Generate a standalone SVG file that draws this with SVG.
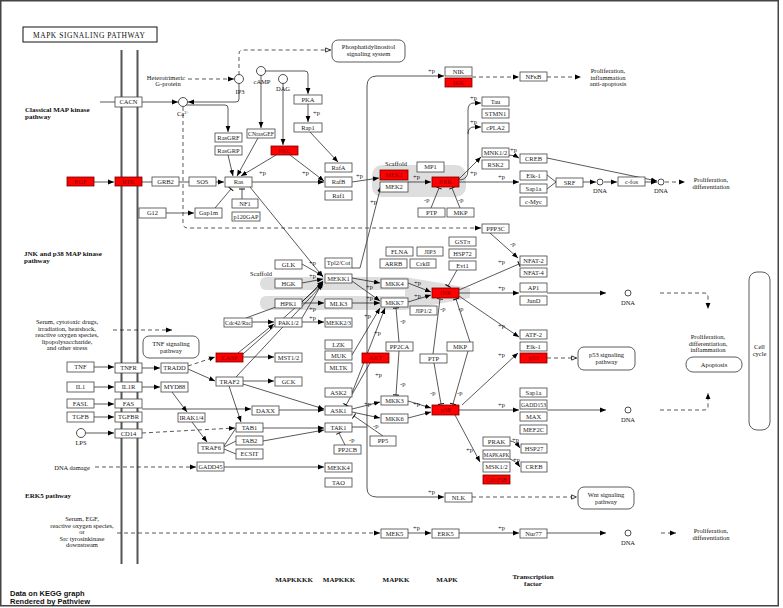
<svg xmlns="http://www.w3.org/2000/svg" width="783" height="608" viewBox="0 0 783 608">
<style>
.n rect{fill:#fff;stroke:#444;stroke-width:.8}
.n.r rect{fill:#f00;stroke:#700}
.n text{font-family:"Liberation Serif",serif;font-size:6.5px;text-anchor:middle;fill:#222}
.n.r text{fill:#800}
.pw rect{fill:#fff;stroke:#333;stroke-width:.8}
.pw text,.lb{font-family:"Liberation Serif",serif;font-size:6.5px;fill:#111}
.pw text,.m{text-anchor:middle}
.bd{font-weight:bold;font-size:7px}
.c path{fill:none;stroke:#111;stroke-width:.7}
.c .d{stroke-dasharray:4 3}
.c .g{stroke:#555;stroke-width:1}
.cir{fill:#fff;stroke:#222;stroke-width:.8}
.sc{fill:#dedede}
.mem{stroke:#555;stroke-width:2}
</style>
<defs>
<marker id="a" viewBox="0 0 10 10" refX="10" refY="5" markerWidth="6" markerHeight="6" orient="auto" markerUnits="userSpaceOnUse"><path d="M0,1 L10,5 L0,9z" fill="#000"/></marker>
<marker id="o" viewBox="0 0 10 10" refX="10" refY="5" markerWidth="6" markerHeight="6" orient="auto" markerUnits="userSpaceOnUse"><path d="M1,1.5 L9,5 L1,8.5z" fill="#fff" stroke="#000" stroke-width="1.3"/></marker>
<marker id="b" viewBox="0 0 4 10" refX="2" refY="5" markerWidth="2.4" markerHeight="6" orient="auto" markerUnits="userSpaceOnUse"><path d="M2,0 V10" stroke="#000" stroke-width="1.6"/></marker>
</defs>
<rect width="783" height="608" fill="#fff"/>
<rect x="0.75" y="0.75" width="777.5" height="605" fill="none" stroke="#444" stroke-width="1.5"/>

<g id="scaffolds">
<rect class="sc" x="372" y="165" width="94" height="32" rx="10"/>
<rect class="sc" x="260" y="277" width="150" height="13" rx="6"/>
<rect class="sc" x="260" y="296" width="150" height="14" rx="6"/>
<polygon class="sc" points="405,277 470,288 470,298 405,310"/>
</g>

<g id="membrane">
<line class="mem" x1="121.5" y1="50" x2="121.5" y2="564"/>
<line class="mem" x1="137.5" y1="50" x2="137.5" y2="564"/>
</g>

<g id="title"><rect x="23" y="27" width="134" height="15" fill="#fff" stroke="#111" stroke-width="1"/><text class="lb m" x="89" y="37.8" style="font-size:7.5px" textLength="112" lengthAdjust="spacing">MAPK SIGNALING PATHWAY</text></g>

<g id="connectors" class="c">
<path d="M100,102 H115"/>
<path d="M142,102 H178" marker-end="url(#a)"/>
<path class="d" d="M188,79 H234" marker-end="url(#a)"/>
<path class="d" d="M239,75 V54 Q239,50 243,50 H331" marker-end="url(#o)"/>
<path d="M239,83 V99 Q239,102 236,102 H188" marker-end="url(#a)"/>
<path d="M186,105 H225 Q228,105 228,108 V132" marker-end="url(#a)"/>
<path class="d" d="M183,107 V223 Q183,228 188,228 H481" marker-end="url(#a)"/>
<path d="M265,71 H305 Q308,71 308,74 V94" marker-end="url(#a)"/>
<path d="M261,75 V128" marker-end="url(#a)"/>
<path d="M283,83 V145" marker-end="url(#a)"/>
<path d="M308,104 V122" marker-end="url(#a)"/>
<path d="M310,132 L338,162" marker-end="url(#a)"/>
<path d="M276,155 L241,176" marker-end="url(#a)"/>
<path d="M290,155 L324,181" marker-end="url(#a)"/>
<path d="M228,155 L233,176" marker-end="url(#a)"/>
<path d="M258,138 L237,176" marker-end="url(#a)"/>
<path d="M252,182 H324" marker-end="url(#a)"/>
<path d="M216,182 H224" marker-end="url(#a)"/>
<path d="M179,182 H189"/>
<path d="M142,182 H152"/>
<path d="M94,182 H114" marker-end="url(#a)"/>
<path d="M166,213 H194" marker-end="url(#a)"/>
<path d="M215,208 L231,189" marker-end="url(#b)"/>
<path d="M242,199 L242,189" marker-end="url(#b)"/>
<path d="M250,187 L323,277" marker-end="url(#a)"/>
<path d="M352,182 L379,178" marker-end="url(#a)"/>
<path d="M352,268 H360 L381,186" marker-end="url(#a)"/>
<path d="M408,182 H431" marker-end="url(#a)"/>
<path d="M431,208 L439,188" marker-end="url(#b)"/>
<path d="M460,208 L452,188" marker-end="url(#b)"/>
<path d="M459,180 Q468,180 468,170 V110 Q468,103 474,103 H481" marker-end="url(#a)"/>
<path d="M468,134 Q468,127 474,127 H481" marker-end="url(#a)"/>
<path d="M459,179 L481,157" marker-end="url(#a)"/>
<path d="M459,182 H519" marker-end="url(#a)"/>
<path d="M509,155 Q514,155 519,158" marker-end="url(#a)"/>
<path d="M547,158 L657,181" marker-end="url(#a)"/>
<path d="M547,175 L556,182 L547,189"/>
<path d="M583,182 H596" marker-end="url(#a)"/>
<path d="M604,182 H617" marker-end="url(#a)"/>
<path d="M644,182 H657" marker-end="url(#a)"/>
<path class="d" d="M665,182 H685" marker-end="url(#a)"/>
<path class="g" d="M352,427 H367"/>
<path class="g" d="M367,427 V86 Q367,76 377,76 H444" marker-end="url(#a)"/>
<path class="g" d="M367,427 V488 Q367,497 377,497 H444" marker-end="url(#a)"/>
<path class="d" d="M472,77 H519" marker-end="url(#a)"/>
<path class="d" d="M547,77 H581" marker-end="url(#a)"/>
<path d="M302,264 L323,276" marker-end="url(#a)"/>
<path d="M302,283 L323,279" marker-end="url(#a)"/>
<path d="M302,302 L323,281" marker-end="url(#a)"/>
<path d="M302,303 H324" marker-end="url(#a)"/>
<path d="M246,318 L276,307"/>
<path d="M252,322 H274" marker-end="url(#a)"/>
<path d="M302,322 H324" marker-end="url(#a)"/>
<path d="M302,318 L323,282" marker-end="url(#a)"/>
<path d="M238,353 L274,324" marker-end="url(#a)"/>
<path d="M243,354 L323,283" marker-end="url(#a)"/>
<path d="M243,357 H274" marker-end="url(#a)"/>
<path d="M243,381 H274" marker-end="url(#a)"/>
<path d="M236,377 L323,284" marker-end="url(#a)"/>
<path d="M243,384 L324,409" marker-end="url(#a)"/>
<path d="M229,386 L241,422" marker-end="url(#a)"/>
<path class="d" d="M188,366 L215,357" marker-end="url(#a)"/>
<path d="M188,369 L215,381" marker-end="url(#a)"/>
<path d="M94,367 H114" marker-end="url(#a)"/>
<path d="M142,368 H160" marker-end="url(#a)"/>
<path d="M94,387 H114" marker-end="url(#a)"/>
<path d="M142,387 H160" marker-end="url(#a)"/>
<path d="M94,404 H114" marker-end="url(#a)"/>
<path d="M142,409 H251" marker-end="url(#a)"/>
<path d="M94,417 H114" marker-end="url(#a)"/>
<path d="M86,433 H114" marker-end="url(#a)"/>
<path class="d" d="M142,433 L235,428" marker-end="url(#a)"/>
<path d="M172,392 L187,412" marker-end="url(#a)"/>
<path d="M192,422 L207,442" marker-end="url(#a)"/>
<path d="M224,446 L236,428 M224,447 L236,441 M224,449 L236,454"/>
<path d="M263,428 H324" marker-end="url(#a)"/>
<path d="M263,441 L324,430" marker-end="url(#a)"/>
<path d="M279,410 H324" marker-end="url(#a)"/>
<path d="M224,467 H324" marker-end="url(#a)"/>
<path class="d" d="M95,467 H196" marker-end="url(#a)"/>
<path d="M345,445 L339,433" marker-end="url(#b)"/>
<path d="M383,436 L354,416" marker-end="url(#b)"/>
<path d="M352,409 L380,402" marker-end="url(#a)"/>
<path d="M352,412 L380,418" marker-end="url(#a)"/>
<path d="M370,363 L346,405" marker-end="url(#b)"/>
<path d="M352,393 L385,308" marker-end="url(#a)"/>
<path d="M352,355 L380,308" marker-end="url(#a)"/>
<path d="M352,278 L380,283" marker-end="url(#a)"/>
<path d="M352,281 L380,301" marker-end="url(#a)"/>
<path d="M352,303 H380" marker-end="url(#a)"/>
<path d="M408,283 L431,292" marker-end="url(#a)"/>
<path d="M408,302 L431,295" marker-end="url(#a)"/>
<path d="M457,270 L448,286" marker-end="url(#b)"/>
<path d="M459,290 L519,264" marker-end="url(#b)"/>
<path d="M490,233 L518,258" marker-end="url(#a)"/>
<path d="M459,293 H519" marker-end="url(#a)"/>
<path d="M459,296 L519,337" marker-end="url(#a)"/>
<path d="M547,293 H606" marker-end="url(#a)"/>
<path class="d" d="M660,293 H704 Q708,293 708,297 V309" marker-end="url(#a)"/>
<path class="d" d="M547,358 H577" marker-end="url(#o)"/>
<path d="M399,342 L396,308" marker-end="url(#b)"/>
<path d="M399,351 L396,395" marker-end="url(#b)"/>
<path d="M433,354 L440,299" marker-end="url(#b)"/>
<path d="M470,342 L456,299" marker-end="url(#b)"/>
<path d="M434,363 L441,404" marker-end="url(#b)"/>
<path d="M468,351 L453,404" marker-end="url(#b)"/>
<path d="M408,401 L431,408" marker-end="url(#a)"/>
<path d="M408,418 L431,412" marker-end="url(#a)"/>
<path d="M459,410 H519" marker-end="url(#a)"/>
<path d="M462,405 L518,353" marker-end="url(#a)"/>
<path d="M455,415 L480,462" marker-end="url(#a)"/>
<path d="M510,441 Q515,441 520,448" marker-end="url(#a)"/>
<path d="M510,459 Q515,460 520,467" marker-end="url(#a)"/>
<path d="M547,410 H606" marker-end="url(#a)"/>
<path class="d" d="M660,410 H704 Q708,410 708,406 V393" marker-end="url(#a)"/>
<path class="d" d="M472,497 H577" marker-end="url(#o)"/>
<path class="d" d="M117,533 H380" marker-end="url(#a)"/>
<path d="M408,533 H431" marker-end="url(#a)"/>
<path d="M459,533 H519" marker-end="url(#a)"/>
<path d="M547,533 H606" marker-end="url(#a)"/>
<path class="d" d="M661,533 H676" marker-end="url(#a)"/>
<path class="d" d="M113,330 H172" marker-end="url(#a)"/>
</g>

<g id="compounds">
<circle class="cir" cx="183" cy="102" r="4.5"/>
<circle class="cir" cx="239" cy="79" r="4.5"/>
<circle class="cir" cx="261" cy="71" r="4.5"/>
<circle class="cir" cx="283" cy="79" r="4.5"/>
<circle class="cir" cx="81" cy="433" r="4.5"/>
<circle class="cir" cx="600" cy="182" r="3"/>
<circle class="cir" cx="661" cy="182" r="3"/>
<circle class="cir" cx="628" cy="293" r="3"/>
<circle class="cir" cx="628" cy="410" r="3"/>
<circle class="cir" cx="628" cy="533" r="3"/>
</g>

<g id="pathways" class="pw">
<g id="pw-pi"><rect x="332" y="40" width="73" height="22" rx="6"/><text x="368.5" y="49">Phosphatidylinositol</text><text x="368.5" y="56">signaling system</text></g>
<g id="pw-tnf"><rect x="143" y="336" width="56" height="22" rx="6"/><text x="171" y="345.5">TNF signaling</text><text x="171" y="352.5">pathway</text></g>
<g id="pw-p53"><rect x="578" y="347" width="57" height="23" rx="6"/><text x="606.5" y="357">p53 signaling</text><text x="606.5" y="364">pathway</text></g>
<g id="pw-wnt"><rect x="578" y="487" width="56" height="22" rx="6"/><text x="606" y="496.5">Wnt signaling</text><text x="606" y="503.5">pathway</text></g>
<g id="pw-apop"><rect x="686" y="357" width="56" height="15" rx="7"/><text x="714" y="367">Apoptosis</text></g>
<g id="pw-cc"><rect x="749" y="272" width="21" height="158" rx="8"/><text x="759.5" y="349">Cell</text><text x="759.5" y="356">cycle</text></g>
</g>

<g id="nodes">
<g id="n-CACN" class="n"><rect x="115" y="97" width="27" height="10"/><text x="128.5" y="104.3">CACN</text></g>
<g id="n-EGF" class="n r"><rect x="67" y="177" width="27" height="9"/><text x="80.5" y="183.8">EGF</text></g>
<g id="n-RTK" class="n r"><rect x="115" y="177" width="27" height="9"/><text x="128.5" y="183.8">RTK</text></g>
<g id="n-GRB2" class="n"><rect x="152" y="177" width="27" height="9"/><text x="165.5" y="183.8">GRB2</text></g>
<g id="n-SOS" class="n"><rect x="189" y="177" width="27" height="9"/><text x="202.5" y="183.8">SOS</text></g>
<g id="n-Ras" class="n"><rect x="225" y="177" width="27" height="10"/><text x="238.5" y="184.3">Ras</text></g>
<g id="n-RasGRF" class="n"><rect x="215" y="133" width="27" height="9"/><text x="228.5" y="139.8">RasGRF</text></g>
<g id="n-RasGRP" class="n"><rect x="215" y="146" width="27" height="9"/><text x="228.5" y="152.8">RasGRP</text></g>
<g id="n-CNrasGEF" class="n"><rect x="247" y="129" width="28" height="9"/><text x="261" y="135.8" textLength="26" lengthAdjust="spacingAndGlyphs">CNrasGEF</text></g>
<g id="n-PKC" class="n r"><rect x="271" y="146" width="27" height="9"/><text x="284.5" y="152.8">PKC</text></g>
<g id="n-PKA" class="n"><rect x="294" y="95" width="28" height="9"/><text x="308" y="101.8">PKA</text></g>
<g id="n-Rap1" class="n"><rect x="294" y="123" width="28" height="9"/><text x="308" y="129.8">Rap1</text></g>
<g id="n-RafA" class="n"><rect x="325" y="163" width="27" height="9"/><text x="338.5" y="169.8">RafA</text></g>
<g id="n-RafB" class="n"><rect x="325" y="177" width="27" height="10"/><text x="338.5" y="184.3">RafB</text></g>
<g id="n-Raf1" class="n"><rect x="325" y="191" width="27" height="9"/><text x="338.5" y="197.8">Raf1</text></g>
<g id="n-NF1" class="n"><rect x="232" y="199" width="26" height="9"/><text x="245" y="205.8">NF1</text></g>
<g id="n-p120GAP" class="n"><rect x="232" y="212" width="28" height="9"/><text x="246" y="218.8" textLength="25" lengthAdjust="spacingAndGlyphs">p120GAP</text></g>
<g id="n-G12" class="n"><rect x="139" y="208" width="27" height="10"/><text x="152.5" y="215.3">G12</text></g>
<g id="n-Gap1m" class="n"><rect x="195" y="208" width="27" height="10"/><text x="208.5" y="215.3">Gap1m</text></g>
<g id="n-MEK1" class="n r"><rect x="380" y="170" width="28" height="10"/><text x="394" y="177.3">MEK1</text></g>
<g id="n-MEK2" class="n"><rect x="380" y="182" width="28" height="10"/><text x="394" y="189.3">MEK2</text></g>
<g id="n-MP1" class="n"><rect x="417" y="162" width="27" height="10"/><text x="430.5" y="169.3">MP1</text></g>
<g id="n-ERK" class="n r"><rect x="432" y="177" width="27" height="10"/><text x="445.5" y="184.3">ERK</text></g>
<g id="n-PTP-erk" class="n"><rect x="418" y="208" width="27" height="9"/><text x="431.5" y="214.8">PTP</text></g>
<g id="n-MKP-erk" class="n"><rect x="447" y="208" width="27" height="9"/><text x="460.5" y="214.8">MKP</text></g>
<g id="n-Tau" class="n"><rect x="482" y="97" width="27" height="9"/><text x="495.5" y="103.8">Tau</text></g>
<g id="n-STMN1" class="n"><rect x="482" y="109" width="27" height="9"/><text x="495.5" y="115.8">STMN1</text></g>
<g id="n-cPLA2" class="n"><rect x="482" y="123" width="27" height="9"/><text x="495.5" y="129.8">cPLA2</text></g>
<g id="n-MNK12" class="n"><rect x="482" y="148" width="27" height="9"/><text x="495.5" y="154.8">MNK1/2</text></g>
<g id="n-RSK2" class="n"><rect x="482" y="160" width="27" height="9"/><text x="495.5" y="166.8">RSK2</text></g>
<g id="n-CREB-erk" class="n"><rect x="520" y="154" width="27" height="9"/><text x="533.5" y="160.8">CREB</text></g>
<g id="n-Elk1-erk" class="n"><rect x="520" y="171" width="27" height="9"/><text x="533.5" y="177.8">Elk-1</text></g>
<g id="n-Sap1a-erk" class="n"><rect x="520" y="184" width="27" height="9"/><text x="533.5" y="190.8">Sap1a</text></g>
<g id="n-cMyc" class="n"><rect x="520" y="197" width="27" height="9"/><text x="533.5" y="203.8">c-Myc</text></g>
<g id="n-SRF" class="n"><rect x="556" y="178" width="27" height="9"/><text x="569.5" y="184.8">SRF</text></g>
<g id="n-cfos" class="n"><rect x="618" y="177" width="27" height="9"/><text x="631.5" y="183.8">c-fos</text></g>
<g id="n-NIK" class="n"><rect x="445" y="67" width="27" height="9"/><text x="458.5" y="73.8">NIK</text></g>
<g id="n-IKK" class="n r"><rect x="445" y="78" width="27" height="9"/><text x="458.5" y="84.8">IKK</text></g>
<g id="n-NFkB" class="n"><rect x="520" y="72" width="27" height="9"/><text x="533.5" y="78.8">NFκB</text></g>
<g id="n-PPP3C" class="n"><rect x="482" y="224" width="27" height="9"/><text x="495.5" y="230.8">PPP3C</text></g>
<g id="n-GLK" class="n"><rect x="275" y="260" width="27" height="9"/><text x="288.5" y="266.8">GLK</text></g>
<g id="n-HGK" class="n"><rect x="275" y="279" width="27" height="9"/><text x="288.5" y="285.8">HGK</text></g>
<g id="n-HPK1" class="n"><rect x="275" y="299" width="27" height="9"/><text x="288.5" y="305.8">HPK1</text></g>
<g id="n-Cdc42Rac" class="n"><rect x="224" y="318" width="28" height="9"/><text x="238" y="324.8" textLength="26" lengthAdjust="spacingAndGlyphs">Cdc42/Rac</text></g>
<g id="n-PAK12" class="n"><rect x="275" y="318" width="27" height="9"/><text x="288.5" y="324.8">PAK1/2</text></g>
<g id="n-Tpl2Cot" class="n"><rect x="325" y="258" width="27" height="10"/><text x="338.5" y="265.3">Tpl2/Cot</text></g>
<g id="n-MEKK1" class="n"><rect x="325" y="274" width="27" height="9"/><text x="338.5" y="280.8">MEKK1</text></g>
<g id="n-MLK3" class="n"><rect x="325" y="299" width="27" height="9"/><text x="338.5" y="305.8">MLK3</text></g>
<g id="n-MEKK23" class="n"><rect x="325" y="318" width="27" height="9"/><text x="338.5" y="324.8" textLength="25" lengthAdjust="spacingAndGlyphs">MEKK2/3</text></g>
<g id="n-LZK" class="n"><rect x="325" y="340" width="27" height="9"/><text x="338.5" y="346.8">LZK</text></g>
<g id="n-MUK" class="n"><rect x="325" y="351" width="27" height="9"/><text x="338.5" y="357.8">MUK</text></g>
<g id="n-MLTK" class="n"><rect x="325" y="363" width="27" height="9"/><text x="338.5" y="369.8">MLTK</text></g>
<g id="n-ASK2" class="n"><rect x="325" y="388" width="27" height="9"/><text x="338.5" y="394.8">ASK2</text></g>
<g id="n-CASP" class="n r"><rect x="216" y="353" width="27" height="9"/><text x="229.5" y="359.8">CASP</text></g>
<g id="n-MST12" class="n"><rect x="275" y="353" width="27" height="9"/><text x="288.5" y="359.8">MST1/2</text></g>
<g id="n-TRAF2" class="n"><rect x="216" y="377" width="27" height="9"/><text x="229.5" y="383.8">TRAF2</text></g>
<g id="n-GCK" class="n"><rect x="275" y="377" width="27" height="9"/><text x="288.5" y="383.8">GCK</text></g>
<g id="n-AKT" class="n r"><rect x="362" y="353" width="27" height="10"/><text x="375.5" y="360.3">AKT</text></g>
<g id="n-MKK4" class="n"><rect x="381" y="279" width="27" height="9"/><text x="394.5" y="285.8">MKK4</text></g>
<g id="n-MKK7" class="n"><rect x="381" y="298" width="27" height="9"/><text x="394.5" y="304.8">MKK7</text></g>
<g id="n-FLNA" class="n"><rect x="386" y="247" width="27" height="9"/><text x="399.5" y="253.8">FLNA</text></g>
<g id="n-JIP3" class="n"><rect x="417" y="247" width="26" height="9"/><text x="430" y="253.8">JIP3</text></g>
<g id="n-ARRB" class="n"><rect x="380" y="259" width="27" height="9"/><text x="393.5" y="265.8">ARRB</text></g>
<g id="n-CrkII" class="n"><rect x="410" y="259" width="26" height="9"/><text x="423" y="265.8">CrkII</text></g>
<g id="n-GSTpi" class="n"><rect x="449" y="237" width="27" height="9"/><text x="462.5" y="243.8">GSTπ</text></g>
<g id="n-HSP72" class="n"><rect x="449" y="249" width="27" height="9"/><text x="462.5" y="255.8">HSP72</text></g>
<g id="n-Evi1" class="n"><rect x="449" y="261" width="27" height="9"/><text x="462.5" y="267.8">Evi1</text></g>
<g id="n-JNK" class="n r"><rect x="432" y="288" width="27" height="10"/><text x="445.5" y="295.3">JNK</text></g>
<g id="n-JIP12" class="n"><rect x="410" y="306" width="27" height="9"/><text x="423.5" y="312.8">JIP1/2</text></g>
<g id="n-PP2CA" class="n"><rect x="386" y="342" width="27" height="9"/><text x="399.5" y="348.8">PP2CA</text></g>
<g id="n-MKP-jnk" class="n"><rect x="447" y="342" width="26" height="9"/><text x="460" y="348.8">MKP</text></g>
<g id="n-PTP-jnk" class="n"><rect x="420" y="354" width="27" height="9"/><text x="433.5" y="360.8">PTP</text></g>
<g id="n-NFAT2" class="n"><rect x="520" y="256" width="27" height="9"/><text x="533.5" y="262.8">NFAT-2</text></g>
<g id="n-NFAT4" class="n"><rect x="520" y="268" width="27" height="9"/><text x="533.5" y="274.8">NFAT-4</text></g>
<g id="n-AP1" class="n"><rect x="520" y="283" width="27" height="9"/><text x="533.5" y="289.8">AP1</text></g>
<g id="n-JunD" class="n"><rect x="520" y="296" width="27" height="9"/><text x="533.5" y="302.8">JunD</text></g>
<g id="n-ATF2" class="n"><rect x="520" y="330" width="27" height="9"/><text x="533.5" y="336.8">ATF-2</text></g>
<g id="n-Elk1-jnk" class="n"><rect x="520" y="342" width="27" height="9"/><text x="533.5" y="348.8">Elk-1</text></g>
<g id="n-p53" class="n r"><rect x="520" y="353" width="27" height="10"/><text x="533.5" y="360.3">p53</text></g>
<g id="n-MKK3" class="n"><rect x="381" y="396" width="27" height="9"/><text x="394.5" y="402.8">MKK3</text></g>
<g id="n-MKK6" class="n"><rect x="381" y="414" width="27" height="9"/><text x="394.5" y="420.8">MKK6</text></g>
<g id="n-p38" class="n r"><rect x="432" y="405" width="27" height="10"/><text x="445.5" y="412.3">p38</text></g>
<g id="n-PP5" class="n"><rect x="370" y="436" width="26" height="10"/><text x="383" y="443.3">PP5</text></g>
<g id="n-Sap1a-p38" class="n"><rect x="520" y="388" width="27" height="9"/><text x="533.5" y="394.8">Sap1a</text></g>
<g id="n-GADD153" class="n"><rect x="520" y="400" width="27" height="9"/><text x="533.5" y="406.8" textLength="25" lengthAdjust="spacingAndGlyphs">GADD153</text></g>
<g id="n-MAX" class="n"><rect x="520" y="412" width="27" height="9"/><text x="533.5" y="418.8">MAX</text></g>
<g id="n-MEF2C" class="n"><rect x="520" y="425" width="27" height="9"/><text x="533.5" y="431.8">MEF2C</text></g>
<g id="n-PRAK" class="n"><rect x="483" y="437" width="27" height="9"/><text x="496.5" y="443.8">PRAK</text></g>
<g id="n-MAPKAPK" class="n"><rect x="483" y="450" width="27" height="9"/><text x="496.5" y="456.6" style="font-size:5.2px">MAPKAPK</text></g>
<g id="n-MSK12" class="n"><rect x="483" y="462" width="27" height="10"/><text x="496.5" y="469.3">MSK1/2</text></g>
<g id="n-Cdc25B" class="n r"><rect x="483" y="475" width="27" height="9"/><text x="496.5" y="481.8">Cdc25B</text></g>
<g id="n-HSP27" class="n"><rect x="521" y="444" width="26" height="9"/><text x="534" y="450.8">HSP27</text></g>
<g id="n-CREB-p38" class="n"><rect x="521" y="462" width="26" height="10"/><text x="534" y="469.3">CREB</text></g>
<g id="n-NLK" class="n"><rect x="445" y="493" width="27" height="9"/><text x="458.5" y="499.8">NLK</text></g>
<g id="n-MEK5" class="n"><rect x="381" y="529" width="27" height="9"/><text x="394.5" y="535.8">MEK5</text></g>
<g id="n-ERK5" class="n"><rect x="432" y="529" width="27" height="9"/><text x="445.5" y="535.8">ERK5</text></g>
<g id="n-Nur77" class="n"><rect x="520" y="529" width="27" height="9"/><text x="533.5" y="535.8">Nur77</text></g>
<g id="n-TNF" class="n"><rect x="67" y="362" width="27" height="10"/><text x="80.5" y="369.3">TNF</text></g>
<g id="n-TNFR" class="n"><rect x="115" y="363" width="27" height="10"/><text x="128.5" y="370.3">TNFR</text></g>
<g id="n-TRADD" class="n"><rect x="161" y="363" width="27" height="10"/><text x="174.5" y="370.3">TRADD</text></g>
<g id="n-IL1" class="n"><rect x="67" y="382" width="27" height="10"/><text x="80.5" y="389.3">IL1</text></g>
<g id="n-IL1R" class="n"><rect x="115" y="382" width="27" height="10"/><text x="128.5" y="389.3">IL1R</text></g>
<g id="n-MYD88" class="n"><rect x="161" y="382" width="27" height="10"/><text x="174.5" y="389.3">MYD88</text></g>
<g id="n-FASL" class="n"><rect x="67" y="399" width="27" height="9"/><text x="80.5" y="405.8">FASL</text></g>
<g id="n-FAS" class="n"><rect x="115" y="399" width="27" height="9"/><text x="128.5" y="405.8">FAS</text></g>
<g id="n-TGFB" class="n"><rect x="67" y="412" width="27" height="10"/><text x="80.5" y="419.3">TGFB</text></g>
<g id="n-TGFBR" class="n"><rect x="115" y="412" width="27" height="10"/><text x="128.5" y="419.3">TGFBR</text></g>
<g id="n-CD14" class="n"><rect x="115" y="429" width="27" height="9"/><text x="128.5" y="435.8">CD14</text></g>
<g id="n-IRAK14" class="n"><rect x="178" y="413" width="27" height="9"/><text x="191.5" y="419.8">IRAK1/4</text></g>
<g id="n-TRAF6" class="n"><rect x="198" y="443" width="26" height="10"/><text x="211" y="450.3">TRAF6</text></g>
<g id="n-TAB1" class="n"><rect x="236" y="423" width="27" height="9"/><text x="249.5" y="429.8">TAB1</text></g>
<g id="n-TAB2" class="n"><rect x="236" y="436" width="27" height="9"/><text x="249.5" y="442.8">TAB2</text></g>
<g id="n-ECSIT" class="n"><rect x="236" y="449" width="27" height="10"/><text x="249.5" y="456.3">ECSIT</text></g>
<g id="n-DAXX" class="n"><rect x="252" y="406" width="27" height="9"/><text x="265.5" y="412.8">DAXX</text></g>
<g id="n-ASK1" class="n"><rect x="325" y="406" width="27" height="9"/><text x="338.5" y="412.8">ASK1</text></g>
<g id="n-TAK1" class="n"><rect x="325" y="423" width="27" height="9"/><text x="338.5" y="429.8">TAK1</text></g>
<g id="n-PP2CB" class="n"><rect x="334" y="445" width="27" height="9"/><text x="347.5" y="451.8">PP2CB</text></g>
<g id="n-GADD45" class="n"><rect x="197" y="462" width="27" height="9"/><text x="210.5" y="468.8" textLength="24" lengthAdjust="spacingAndGlyphs">GADD45</text></g>
<g id="n-MEKK4" class="n"><rect x="325" y="463" width="27" height="9"/><text x="338.5" y="469.8">MEKK4</text></g>
<g id="n-TAO" class="n"><rect x="325" y="478" width="27" height="9"/><text x="338.5" y="484.8">TAO</text></g>
</g>

<g id="labels" class="lb">
<text class="m" x="166" y="79.5">Heterotrimeric</text>
<text class="m" x="168" y="86">G-protein</text>
<text class="m" x="240" y="94">IP3</text>
<text class="m" x="262" y="84">cAMP</text>
<text class="m" x="283" y="91">DAG</text>
<text class="m" x="183" y="116">Ca<tspan dy="-2.5" style="font-size:4.5px">2+</tspan></text>
<text class="m" x="81" y="445">LPS</text>
<text class="m" x="600" y="193">DNA</text>
<text class="m" x="661" y="193">DNA</text>
<text class="m" x="628" y="305">DNA</text>
<text class="m" x="628" y="422">DNA</text>
<text class="m" x="628" y="545">DNA</text>
<text class="m" x="608" y="73">Proliferation,</text>
<text class="m" x="608" y="79.5">inflammation</text>
<text class="m" x="608" y="86">anti-apoptosis</text>
<text class="m" x="711" y="182">Proliferation,</text>
<text class="m" x="711" y="188.5">differentiation</text>
<text class="m" x="708" y="339">Proliferation,</text>
<text class="m" x="708" y="345.5">differentiation,</text>
<text class="m" x="708" y="352">inflammation</text>
<text class="m" x="711" y="533">Proliferation,</text>
<text class="m" x="711" y="539.5">differentiation</text>
<text class="m" x="396" y="166">Scaffold</text>
<text class="m" x="261" y="276">Scaffold</text>
<text class="m" x="67" y="324">Serum, cytotoxic drugs,</text>
<text class="m" x="67" y="330.5">irradiation, heatshock,</text>
<text class="m" x="67" y="337">reactive oxygen species,</text>
<text class="m" x="67" y="343.5">lipopolysaccharide,</text>
<text class="m" x="67" y="350">and other stress</text>
<text class="m" x="72" y="470">DNA damage</text>
<text class="m" x="82" y="521">Serum, EGF,</text>
<text class="m" x="82" y="527.5">reactive oxygen species,</text>
<text class="m" x="82" y="534">or</text>
<text class="m" x="82" y="540.5">Src tyrosinkinase</text>
<text class="m" x="82" y="547">downstream</text>
<text class="bd" x="25" y="112">Classical MAP kinase</text>
<text class="bd" x="25" y="119">pathway</text>
<text class="bd" x="24" y="256">JNK and p38 MAP kinase</text>
<text class="bd" x="24" y="263">pathway</text>
<text class="bd" x="25" y="498">ERK5 pathway</text>
<text class="bd m" x="294" y="582">MAPKKKK</text>
<text class="bd m" x="339" y="582">MAPKKK</text>
<text class="bd m" x="396" y="582">MAPKK</text>
<text class="bd m" x="447" y="582">MAPK</text>
<text class="bd m" x="533" y="579">Transcription</text>
<text class="bd m" x="533" y="586">factor</text>
<text x="10" y="596" style="font-family:'Liberation Sans',Arial,sans-serif;font-weight:bold;font-size:7.5px">Data on KEGG graph</text>
<text x="10" y="604" style="font-family:'Liberation Sans',Arial,sans-serif;font-weight:bold;font-size:7.5px">Rendered by Pathview</text>
</g>

<g id="modlabels" class="lb">
<text x="313" y="115">+p</text>
<text x="259" y="175">+p</text>
<text x="302" y="175">+p</text>
<text x="356" y="178">+p</text>
<text x="370" y="204">+p</text>
<text x="413" y="179">+p</text>
<text x="424" y="202">-p</text>
<text x="458" y="202">-p</text>
<text x="470" y="100">+p</text>
<text x="470" y="124">+p</text>
<text x="470" y="175">+p</text>
<text x="498" y="179">+p</text>
<text x="510" y="152">+p</text>
<text x="428" y="73">+p</text>
<text x="428" y="494">+p</text>
<text x="309" y="265">+p</text>
<text x="309" y="278">+p</text>
<text x="309" y="311">+p</text>
<text x="309" y="320">+p</text>
<text x="366" y="289">+p</text>
<text x="366" y="300">+p</text>
<text x="364" y="318">+p</text>
<text x="374" y="335">+p</text>
<text x="375" y="377">+p</text>
<text x="414" y="285">+p</text>
<text x="414" y="298">+p</text>
<text x="498" y="264">+p</text>
<text x="510" y="246">-p</text>
<text x="498" y="290">+p</text>
<text x="498" y="328">+p</text>
<text x="498" y="357">+p</text>
<text x="400" y="323">-p</text>
<text x="400" y="386">-p</text>
<text x="440" y="311">-p</text>
<text x="458" y="311">-p</text>
<text x="430" y="395">-p</text>
<text x="457" y="395">-p</text>
<text x="413" y="406">+p</text>
<text x="498" y="407">+p</text>
<text x="466" y="452">+p</text>
<text x="512" y="442">+p</text>
<text x="513" y="461.5">+p</text>
<text x="364" y="406">+p</text>
<text x="373" y="428">-p</text>
<text x="349" y="442">-p</text>
<text x="413" y="530">+p</text>
<text x="498" y="530">+p</text>
</g>
</svg>
